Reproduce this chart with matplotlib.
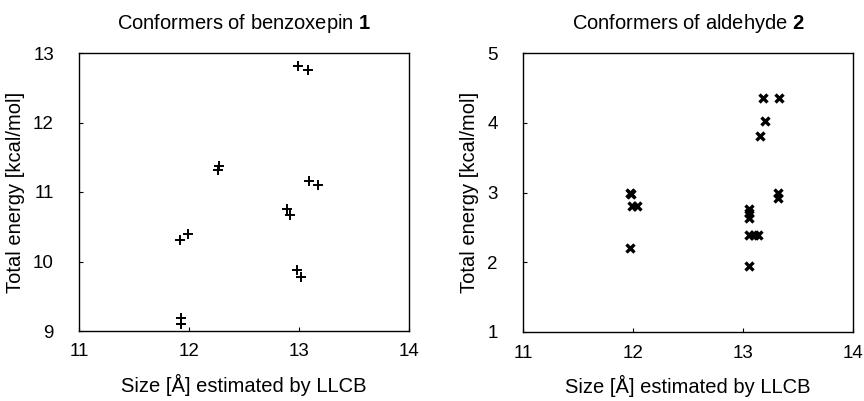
import matplotlib
matplotlib.use("Agg")
import matplotlib.pyplot as plt

plt.rcParams['font.family'] = ['Liberation Sans', 'DejaVu Sans']
plt.rcParams['mathtext.fontset'] = 'custom'
plt.rcParams['mathtext.rm'] = 'Liberation Sans'
plt.rcParams['mathtext.bf'] = 'Liberation Sans:bold'

# Data: benzoxepin 1
benz_size = [12.99, 13.08, 12.27, 12.26, 13.09, 13.17, 12.89, 12.92,
             11.92, 11.99, 12.98, 13.02, 11.93, 11.93]
benz_energy = [12.82, 12.76, 11.38, 11.31, 11.16, 11.10, 10.75, 10.67,
               10.31, 10.40, 9.88, 9.77, 9.18, 9.10]

# Data: aldehyde 2
ald_size = [13.18, 13.33, 13.20, 13.15, 11.97, 11.98, 11.99, 12.04, 11.97,
            13.05, 13.05, 13.05, 13.05, 13.10, 13.14, 13.05, 13.32, 13.32]
ald_energy = [4.36, 4.35, 4.03, 3.81, 3.00, 2.98, 2.81, 2.81, 2.21,
              2.77, 2.70, 2.64, 2.39, 2.39, 2.39, 1.95, 3.00, 2.92]

x_ticks = [11, 12, 13, 14]
benz_yticks = [9, 10, 11, 12, 13]
ald_yticks = [1, 2, 3, 4, 5]

titles = ["Conformers of benzoxepin $\\mathbf{1}$",
          "Conformers of aldehyde $\\mathbf{2}$"]
xlabel = "Size [Å] estimated by LLCB"
ylabel = "Total energy [kcal/mol]"

fig = plt.figure(figsize=(8.64, 4.01), dpi=100)
ax1 = fig.add_axes([79/864, 1-331/401, 330/864, 278/401])
ax2 = fig.add_axes([523/864, 1-332/401, 330/864, 279/401])

ax1.plot(benz_size, benz_energy, linestyle='none', marker='+',
         markersize=6.5, markeredgewidth=1.4, color='black')
ax2.plot(ald_size, ald_energy, linestyle='none', marker='x',
         markersize=5.5, markeredgewidth=2.4, color='black')

for ax, yt, title in [(ax1, benz_yticks, titles[0]), (ax2, ald_yticks, titles[1])]:
    ax.set_xlim(x_ticks[0], x_ticks[-1])
    ax.set_ylim(yt[0], yt[-1])
    ax.set_xticks(x_ticks)
    ax.set_yticks(yt)
    ax.tick_params(axis='x', direction='in', length=3, width=0.8, pad=9,
                   labelsize=13.5, top=False)
    ax.tick_params(axis='y', direction='in', length=3, width=0.8, pad=18,
                   labelsize=13.5, right=False)
    for s in ax.spines.values():
        s.set_linewidth(1.0)
        s.set_color('black')
    ax.set_title(title, fontsize=14.5, pad=17)
    ax.set_xlabel(xlabel, fontsize=14.5, labelpad=10)
    ax.set_ylabel(ylabel, fontsize=14.5, labelpad=6)

fig.savefig("out.png", dpi=100)
